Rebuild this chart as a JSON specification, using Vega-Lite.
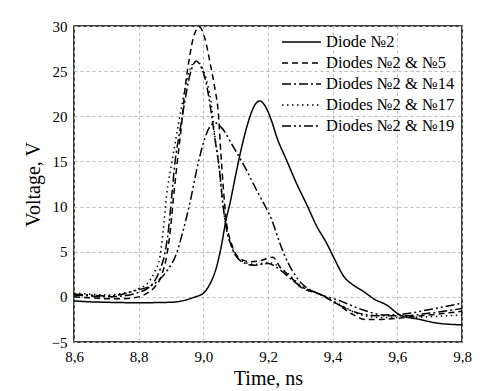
{
  "$schema": "https://vega.github.io/schema/vega-lite/v6.json",
  "width": 388,
  "height": 316,
  "autosize": {"type": "none"},
  "padding": {"left": 74, "top": 26, "right": 34, "bottom": 49},
  "background": "white",
  "config": {
    "view": {"stroke": "#000", "strokeWidth": 1.5},
    "font": "Times New Roman, Liberation Serif, serif",
    "axis": {
      "labelFont": "Times New Roman, Liberation Serif, serif", "labelFontSize": 15, "labelColor": "#000",
      "titleFont": "Times New Roman, Liberation Serif, serif", "titleFontSize": 20, "titleFontWeight": "normal", "titleColor": "#000",
      "gridColor": "#b8b8b8", "gridDash": [3, 3], "gridWidth": 1,
      "ticks": false, "domain": false
    },
    "legend": {
      "labelFont": "Times New Roman, Liberation Serif, serif", "labelFontSize": 16, "labelColor": "#000"
    }
  },
  "data": {"values": [
    {"series":"Diode №2","t":8.6,"v":-0.45},{"series":"Diode №2","t":8.65,"v":-0.55},{"series":"Diode №2","t":8.7,"v":-0.6},{"series":"Diode №2","t":8.8,"v":-0.65},{"series":"Diode №2","t":8.9,"v":-0.6},{"series":"Diode №2","t":8.95,"v":-0.3},{"series":"Diode №2","t":8.975,"v":0.0},{"series":"Diode №2","t":9.0,"v":0.4},{"series":"Diode №2","t":9.02,"v":1.4},{"series":"Diode №2","t":9.04,"v":3.2},{"series":"Diode №2","t":9.055,"v":5.5},{"series":"Diode №2","t":9.07,"v":8.5},{"series":"Diode №2","t":9.082,"v":10.3},{"series":"Diode №2","t":9.1,"v":13.5},{"series":"Diode №2","t":9.12,"v":16.8},{"series":"Diode №2","t":9.14,"v":19.5},{"series":"Diode №2","t":9.16,"v":21.3},{"series":"Diode №2","t":9.175,"v":21.7},{"series":"Diode №2","t":9.19,"v":21.2},{"series":"Diode №2","t":9.21,"v":19.6},{"series":"Diode №2","t":9.227,"v":17.7},{"series":"Diode №2","t":9.258,"v":15.1},{"series":"Diode №2","t":9.289,"v":12.5},{"series":"Diode №2","t":9.32,"v":10.2},{"series":"Diode №2","t":9.351,"v":7.8},{"series":"Diode №2","t":9.382,"v":5.9},{"series":"Diode №2","t":9.402,"v":4.45},{"series":"Diode №2","t":9.438,"v":2.1},{"series":"Diode №2","t":9.464,"v":1.3},{"series":"Diode №2","t":9.495,"v":0.6},{"series":"Diode №2","t":9.531,"v":-0.3},{"series":"Diode №2","t":9.567,"v":-0.9},{"series":"Diode №2","t":9.608,"v":-2.0},{"series":"Diode №2","t":9.67,"v":-2.5},{"series":"Diode №2","t":9.722,"v":-2.9},{"series":"Diode №2","t":9.8,"v":-3.1},

    {"series":"Diodes №2 & №5","t":8.6,"v":0.0},{"series":"Diodes №2 & №5","t":8.65,"v":-0.1},{"series":"Diodes №2 & №5","t":8.7,"v":-0.2},{"series":"Diodes №2 & №5","t":8.75,"v":-0.2},{"series":"Diodes №2 & №5","t":8.8,"v":0.0},{"series":"Diodes №2 & №5","t":8.83,"v":0.5},{"series":"Diodes №2 & №5","t":8.85,"v":1.1},{"series":"Diodes №2 & №5","t":8.87,"v":2.3},{"series":"Diodes №2 & №5","t":8.888,"v":4.8},{"series":"Diodes №2 & №5","t":8.898,"v":7.4},{"series":"Diodes №2 & №5","t":8.908,"v":11.1},{"series":"Diodes №2 & №5","t":8.919,"v":14.8},{"series":"Diodes №2 & №5","t":8.933,"v":19.2},{"series":"Diodes №2 & №5","t":8.943,"v":22.9},{"series":"Diodes №2 & №5","t":8.959,"v":26.9},{"series":"Diodes №2 & №5","t":8.969,"v":28.7},{"series":"Diodes №2 & №5","t":8.988,"v":29.9},{"series":"Diodes №2 & №5","t":9.005,"v":28.6},{"series":"Diodes №2 & №5","t":9.021,"v":25.9},{"series":"Diodes №2 & №5","t":9.036,"v":23.0},{"series":"Diodes №2 & №5","t":9.046,"v":20.5},{"series":"Diodes №2 & №5","t":9.054,"v":16.0},{"series":"Diodes №2 & №5","t":9.062,"v":12.0},{"series":"Diodes №2 & №5","t":9.07,"v":8.7},{"series":"Diodes №2 & №5","t":9.087,"v":5.9},{"series":"Diodes №2 & №5","t":9.108,"v":4.4},{"series":"Diodes №2 & №5","t":9.144,"v":3.9},{"series":"Diodes №2 & №5","t":9.175,"v":4.0},{"series":"Diodes №2 & №5","t":9.215,"v":4.4},{"series":"Diodes №2 & №5","t":9.237,"v":3.3},{"series":"Diodes №2 & №5","t":9.27,"v":2.2},{"series":"Diodes №2 & №5","t":9.3,"v":1.1},{"series":"Diodes №2 & №5","t":9.36,"v":0.3},{"series":"Diodes №2 & №5","t":9.41,"v":-0.7},{"series":"Diodes №2 & №5","t":9.46,"v":-1.9},{"series":"Diodes №2 & №5","t":9.5,"v":-2.5},{"series":"Diodes №2 & №5","t":9.55,"v":-2.5},{"series":"Diodes №2 & №5","t":9.62,"v":-2.3},{"series":"Diodes №2 & №5","t":9.7,"v":-2.0},{"series":"Diodes №2 & №5","t":9.8,"v":-1.6},

    {"series":"Diodes №2 & №14","t":8.6,"v":0.2},{"series":"Diodes №2 & №14","t":8.65,"v":0.1},{"series":"Diodes №2 & №14","t":8.7,"v":0.0},{"series":"Diodes №2 & №14","t":8.75,"v":0.1},{"series":"Diodes №2 & №14","t":8.8,"v":0.5},{"series":"Diodes №2 & №14","t":8.83,"v":1.0},{"series":"Diodes №2 & №14","t":8.85,"v":1.8},{"series":"Diodes №2 & №14","t":8.868,"v":3.2},{"series":"Diodes №2 & №14","t":8.881,"v":4.8},{"series":"Diodes №2 & №14","t":8.892,"v":7.4},{"series":"Diodes №2 & №14","t":8.902,"v":11.1},{"series":"Diodes №2 & №14","t":8.912,"v":14.8},{"series":"Diodes №2 & №14","t":8.928,"v":18.5},{"series":"Diodes №2 & №14","t":8.942,"v":21.5},{"series":"Diodes №2 & №14","t":8.958,"v":24.5},{"series":"Diodes №2 & №14","t":8.978,"v":26.1},{"series":"Diodes №2 & №14","t":8.995,"v":25.3},{"series":"Diodes №2 & №14","t":9.01,"v":23.5},{"series":"Diodes №2 & №14","t":9.024,"v":20.5},{"series":"Diodes №2 & №14","t":9.036,"v":17.5},{"series":"Diodes №2 & №14","t":9.05,"v":14.0},{"series":"Diodes №2 & №14","t":9.06,"v":10.4},{"series":"Diodes №2 & №14","t":9.07,"v":7.8},{"series":"Diodes №2 & №14","t":9.087,"v":5.6},{"series":"Diodes №2 & №14","t":9.118,"v":3.9},{"series":"Diodes №2 & №14","t":9.16,"v":3.5},{"series":"Diodes №2 & №14","t":9.2,"v":3.7},{"series":"Diodes №2 & №14","t":9.237,"v":3.0},{"series":"Diodes №2 & №14","t":9.27,"v":2.0},{"series":"Diodes №2 & №14","t":9.3,"v":1.2},{"series":"Diodes №2 & №14","t":9.36,"v":0.3},{"series":"Diodes №2 & №14","t":9.42,"v":-0.9},{"series":"Diodes №2 & №14","t":9.48,"v":-1.8},{"series":"Diodes №2 & №14","t":9.55,"v":-2.1},{"series":"Diodes №2 & №14","t":9.62,"v":-2.1},{"series":"Diodes №2 & №14","t":9.7,"v":-1.8},{"series":"Diodes №2 & №14","t":9.8,"v":-1.3},

    {"series":"Diodes №2 & №17","t":8.6,"v":0.4},{"series":"Diodes №2 & №17","t":8.65,"v":0.3},{"series":"Diodes №2 & №17","t":8.7,"v":0.2},{"series":"Diodes №2 & №17","t":8.75,"v":0.4},{"series":"Diodes №2 & №17","t":8.8,"v":0.9},{"series":"Diodes №2 & №17","t":8.83,"v":1.6},{"series":"Diodes №2 & №17","t":8.85,"v":2.8},{"series":"Diodes №2 & №17","t":8.866,"v":4.45},{"series":"Diodes №2 & №17","t":8.876,"v":7.4},{"series":"Diodes №2 & №17","t":8.886,"v":11.1},{"series":"Diodes №2 & №17","t":8.902,"v":14.8},{"series":"Diodes №2 & №17","t":8.92,"v":18.5},{"series":"Diodes №2 & №17","t":8.935,"v":21.5},{"series":"Diodes №2 & №17","t":8.955,"v":24.8},{"series":"Diodes №2 & №17","t":8.978,"v":26.1},{"series":"Diodes №2 & №17","t":8.995,"v":25.5},{"series":"Diodes №2 & №17","t":9.01,"v":24.0},{"series":"Diodes №2 & №17","t":9.024,"v":21.5},{"series":"Diodes №2 & №17","t":9.036,"v":17.7},{"series":"Diodes №2 & №17","t":9.05,"v":14.0},{"series":"Diodes №2 & №17","t":9.06,"v":10.4},{"series":"Diodes №2 & №17","t":9.07,"v":7.8},{"series":"Diodes №2 & №17","t":9.087,"v":5.6},{"series":"Diodes №2 & №17","t":9.118,"v":4.0},{"series":"Diodes №2 & №17","t":9.16,"v":3.6},{"series":"Diodes №2 & №17","t":9.2,"v":3.8},{"series":"Diodes №2 & №17","t":9.24,"v":3.2},{"series":"Diodes №2 & №17","t":9.27,"v":2.3},{"series":"Diodes №2 & №17","t":9.3,"v":1.3},{"series":"Diodes №2 & №17","t":9.36,"v":0.3},{"series":"Diodes №2 & №17","t":9.42,"v":-0.8},{"series":"Diodes №2 & №17","t":9.48,"v":-1.9},{"series":"Diodes №2 & №17","t":9.55,"v":-2.3},{"series":"Diodes №2 & №17","t":9.62,"v":-2.3},{"series":"Diodes №2 & №17","t":9.7,"v":-2.2},{"series":"Diodes №2 & №17","t":9.8,"v":-2.0},

    {"series":"Diodes №2 & №19","t":8.6,"v":0.3},{"series":"Diodes №2 & №19","t":8.65,"v":0.2},{"series":"Diodes №2 & №19","t":8.7,"v":0.1},{"series":"Diodes №2 & №19","t":8.75,"v":0.3},{"series":"Diodes №2 & №19","t":8.79,"v":0.7},{"series":"Diodes №2 & №19","t":8.85,"v":1.5},{"series":"Diodes №2 & №19","t":8.89,"v":3.0},{"series":"Diodes №2 & №19","t":8.915,"v":4.6},{"series":"Diodes №2 & №19","t":8.938,"v":7.4},{"series":"Diodes №2 & №19","t":8.959,"v":10.5},{"series":"Diodes №2 & №19","t":8.984,"v":14.8},{"series":"Diodes №2 & №19","t":9.01,"v":18.1},{"series":"Diodes №2 & №19","t":9.035,"v":19.3},{"series":"Diodes №2 & №19","t":9.055,"v":18.8},{"series":"Diodes №2 & №19","t":9.093,"v":16.6},{"series":"Diodes №2 & №19","t":9.134,"v":14.0},{"series":"Diodes №2 & №19","t":9.165,"v":11.8},{"series":"Diodes №2 & №19","t":9.186,"v":10.4},{"series":"Diodes №2 & №19","t":9.212,"v":8.5},{"series":"Diodes №2 & №19","t":9.237,"v":5.9},{"series":"Diodes №2 & №19","t":9.263,"v":3.7},{"series":"Diodes №2 & №19","t":9.294,"v":1.9},{"series":"Diodes №2 & №19","t":9.36,"v":0.3},{"series":"Diodes №2 & №19","t":9.42,"v":-0.4},{"series":"Diodes №2 & №19","t":9.49,"v":-1.4},{"series":"Diodes №2 & №19","t":9.56,"v":-2.0},{"series":"Diodes №2 & №19","t":9.62,"v":-1.9},{"series":"Diodes №2 & №19","t":9.7,"v":-1.4},{"series":"Diodes №2 & №19","t":9.8,"v":-0.7}
  ]},
  "mark": {"type": "line", "interpolate": "monotone", "strokeWidth": 1.5, "color": "#000", "clip": true},
  "encoding": {
    "x": {"field": "t", "type": "quantitative",
      "scale": {"domain": [8.6, 9.8], "nice": false, "zero": false},
      "axis": {"values": [8.6, 8.8, 9.0, 9.2, 9.4, 9.6, 9.8], "title": "Time, ns",
        "labelFont": "Times New Roman, Liberation Serif, serif", "labelFontSize": 15, "titleFont": "Times New Roman, Liberation Serif, serif",
        "labelExpr": "replace(format(datum.value, '.1f'), '.', ',')", "labelPadding": 7, "titlePadding": 4, "labelFlush": false}},
    "y": {"field": "v", "type": "quantitative",
      "scale": {"domain": [-5, 30], "nice": false, "zero": false},
      "axis": {"values": [-5, 0, 5, 10, 15, 20, 25, 30], "title": "Voltage, V",
        "labelFont": "Times New Roman, Liberation Serif, serif", "labelFontSize": 15, "titleFont": "Times New Roman, Liberation Serif, serif",
        "labelPadding": 7, "titlePadding": 8, "labelFlush": false}},
    "strokeDash": {"field": "series", "type": "nominal",
      "scale": {
        "domain": ["Diode №2", "Diodes №2 & №5", "Diodes №2 & №14", "Diodes №2 & №17", "Diodes №2 & №19"],
        "range": [[1, 0], [6, 4], [9, 3, 2, 3], [1.5, 3.5], [9, 3, 2, 3, 2, 3]]
      },
      "legend": {"title": null, "orient": "none", "legendX": 207, "legendY": 5, "padding": 0,
        "labelFont": "Times New Roman, Liberation Serif, serif", "labelFontSize": 16.5,
        "symbolType": "M-1,0L2.9,0", "symbolSize": 400, "symbolStrokeWidth": 1.5, "symbolStrokeColor": "#000",
        "rowPadding": 1, "labelOffset": 23}
    }
  }
}
